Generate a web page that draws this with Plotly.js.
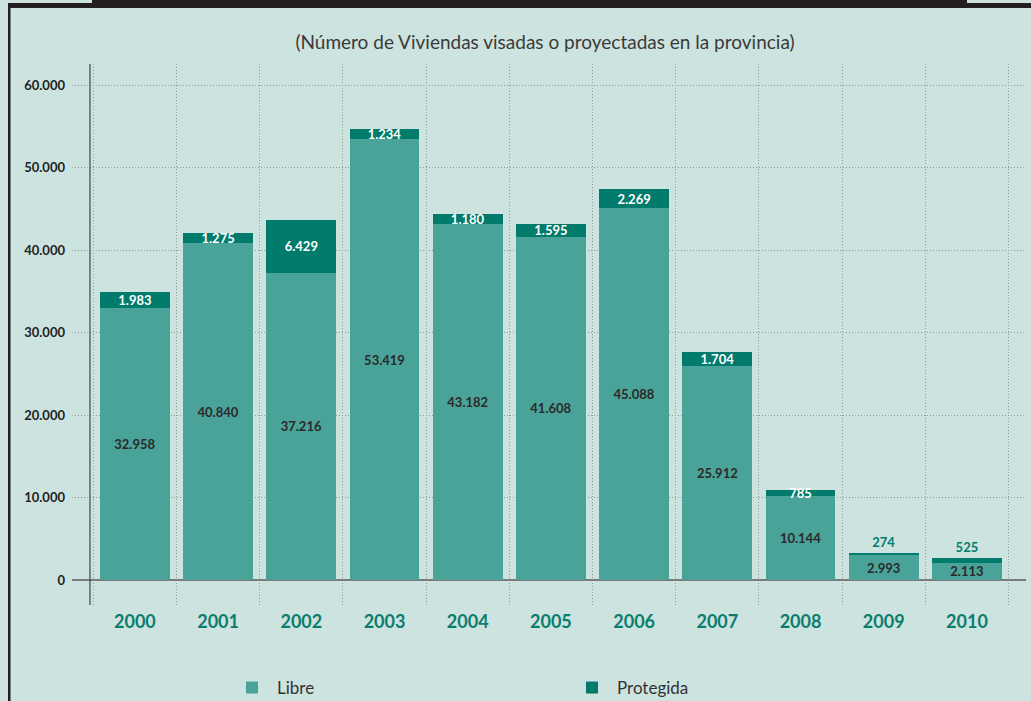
<!DOCTYPE html>
<html>
<head>
<meta charset="utf-8">
<script src="https://cdn.plot.ly/plotly-3.0.1.min.js"></script>
<style>
html,body{margin:0;padding:0;background:#cde3e0;}
#chart{width:1031px;height:701px;}
</style>
</head>
<body>
<div id="chart"></div>
<script>
// Data
const years = ["2000","2001","2002","2003","2004","2005","2006","2007","2008","2009","2010"];
const libre = [32958, 40840, 37216, 53419, 43182, 41608, 45088, 25912, 10144, 2993, 2113];
const protegida = [1983, 1275, 6429, 1234, 1180, 1595, 2269, 1704, 785, 274, 525];
const seriesNames = ["Libre", "Protegida"];
const yTicks = [0, 10000, 20000, 30000, 40000, 50000, 60000];
const subtitle = "(Número de Viviendas visadas o proyectadas en la provincia)";

const FONT = "Lato, 'Noto Sans', sans-serif";
const BG = "#cde3e0";

// small totals: put the Protegida label just above the bar so it doesn't collide
const protPos = libre.map((v, i) => (v + protegida[i] < 5000 ? "outside" : "inside"));

const traces = [
  {
    type: "bar", name: seriesNames[0], x: years, y: libre,
    marker: {color: "#4aa399", line: {width: 0}},
    texttemplate: "%{y:,d}", textposition: "inside", insidetextanchor: "middle",
    textangle: 0, constraintext: "none",
    textfont: {family: FONT, size: 13, color: "#2a2a2a", weight: "bold"},
    hoverinfo: "skip"
  },
  {
    type: "bar", name: seriesNames[1], x: years, y: protegida,
    marker: {color: "#017b6b", line: {width: 0}},
    texttemplate: "%{y:,d}", textposition: protPos, insidetextanchor: "middle",
    textangle: 0, constraintext: "none", cliponaxis: false,
    textfont: {family: FONT, size: 13, color: "#ffffff", weight: "bold"},
    outsidetextfont: {family: FONT, size: 13, color: "#017b6b", weight: "bold"},
    hoverinfo: "skip"
  }
];

// pixel helpers for frame decorations (paper coords)
const L = 72, R = 1026, T = 64, B = 605;
const px = v => (v - L) / (R - L);
const py = v => (B - v) / (B - T);

const layout = {
  width: 1031, height: 701,
  margin: {l: L, r: 1031 - R, t: T, b: 701 - B, pad: 0, autoexpand: false},
  paper_bgcolor: BG, plot_bgcolor: BG,
  font: {family: FONT, color: "#333"},
  barmode: "stack", bargap: 0.16,
  title: {
    text: subtitle, x: 545 / 1031, xanchor: "center",
    y: 1 - 42 / 701, yanchor: "middle",
    font: {family: FONT, size: 19, color: "#3a3a3a"}
  },
  xaxis: {
    type: "category", range: [-0.756, 10.71], automargin: false,
    tickson: "boundaries", ticks: "", showgrid: true,
    gridcolor: "#8f9a98", griddash: "1px,2px", gridwidth: 1,
    showline: false, zeroline: false,
    tickfont: {family: FONT, size: 18, color: "#0b7d6e", weight: "bold"},
    ticklabelstandoff: 4
  },
  yaxis: {
    range: [-3030, 62545], tickvals: yTicks, tickformat: ",d", automargin: false,
    showgrid: true, gridcolor: "#8f9a98", griddash: "1px,2px", gridwidth: 1,
    zeroline: true, zerolinecolor: "#7a7a7a", zerolinewidth: 2,
    showline: false, ticks: "",
    tickfont: {family: FONT, size: 13, color: "#222", weight: "bold"},
    ticklabelstandoff: 6
  },
  separators: ",.",
  showlegend: true,
  legend: {
    orientation: "h", xref: "container", yref: "container",
    x: 227 / 1031, xanchor: "left", y: 1 - 688 / 701, yanchor: "middle",
    entrywidth: 285, entrywidthmode: "pixels", itemwidth: 40,
    font: {family: FONT, size: 17, color: "#333"},
    bgcolor: "rgba(0,0,0,0)", traceorder: "normal"
  },
  shapes: [
    // y axis line
    {type: "line", xref: "x", yref: "paper", x0: -0.54, x1: -0.54, y0: 0, y1: 1,
     line: {color: "#444", width: 1.2}},
    // frame: left black line
    {type: "rect", xref: "paper", yref: "paper", x0: px(8), x1: px(10.5), y0: py(701), y1: py(3),
     fillcolor: "#231f20", line: {width: 0}},
    // frame: top black line
    {type: "rect", xref: "paper", yref: "paper", x0: px(8), x1: px(1031), y0: py(8), y1: py(3),
     fillcolor: "#231f20", line: {width: 0}},
    // frame: title band
    {type: "rect", xref: "paper", yref: "paper", x0: px(92), x1: px(967), y0: py(8), y1: py(0),
     fillcolor: "#231f20", line: {width: 0}}
  ]
};

Plotly.newPlot("chart", traces, layout, {displayModeBar: false, staticPlot: true});
</script>
</body>
</html>
